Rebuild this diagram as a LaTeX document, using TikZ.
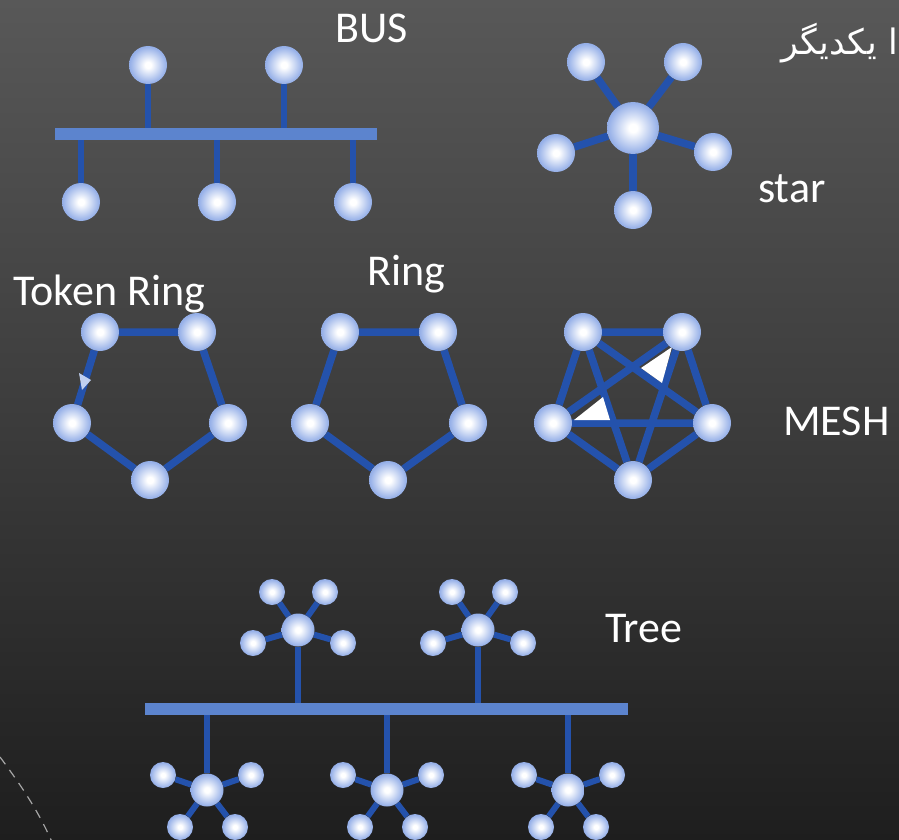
\documentclass[tikz,border=0pt]{standalone}
\usepackage{fontspec}
\setmainfont{Carlito}
\newfontfamily\arabicfont[Script=Arabic]{DejaVu Sans}
\TeXXeTstate=1
\definecolor{edgeblue}{RGB}{36,82,172}
\definecolor{barblue}{RGB}{92,132,206}
\definecolor{ballmid}{RGB}{150,176,232}
\definecolor{ballout}{RGB}{100,130,208}
\definecolor{bgtop}{RGB}{88,88,88}
\definecolor{bgmid}{RGB}{60,60,60}
\definecolor{bgbot}{RGB}{30,30,30}
\pgfdeclareradialshading{ballshade}{\pgfpoint{0bp}{0bp}}{color(0bp)=(white); color(4bp)=(white); color(24bp)=(ballmid); color(46bp)=(ballout); color(50bp)=(ballout); color(100bp)=(ballout)}
\pgfdeclarelayer{back}
\pgfdeclarelayer{edges}
\pgfsetlayers{back,edges,main}
\tikzset{
  ball/.style={circle, inner sep=0pt, minimum size=#1, shading=ballshade},
  link/.style={draw=edgeblue, line width=7.5pt},
  spoke/.style={draw=edgeblue, line width=6pt},
  stem/.style={draw=edgeblue, line width=5.5pt},
  bar/.style={rectangle, fill=barblue, draw=none, inner sep=0pt, minimum height=12pt},
  lbl/.style={text=white, font=\fontsize{44}{52}\selectfont, inner sep=0pt, anchor=base west},
  arrowmark/.style={fill=white, draw=none},
}
\begin{document}
\begin{tikzpicture}[x=1pt,y=-1pt]
\useasboundingbox (0,0) rectangle (899,840);
\begin{pgfonlayer}{back}
  \shade[top color=bgtop, bottom color=bgbot, middle color=bgmid] (0,0) rectangle (899,840);
  \draw[gray!70, dashed, line width=1.2pt, dash pattern=on 9pt off 7pt] (0,757) .. controls (20,784) and (38,810) .. (52,842);
\end{pgfonlayer}

% ---------- labels ----------
\node[lbl] (tbus) at (335,43) {BUS};
\node[lbl] (tstar) at (758,202) {star};
\node[lbl] (ttoken) at (13,305) {Token Ring};
\node[lbl] (tring) at (367,285) {Ring};
\node[lbl] (tmesh) at (783,435) {MESH};
\node[lbl] (ttree) at (605,642) {Tree};
\node[text=white, inner sep=0pt, anchor=base east, font=\arabicfont\fontsize{35}{42}\selectfont] (tfa) at (898,55) {\beginR ا یکدیگر\endR};

% ---------- BUS ----------
\node[bar, minimum width=322pt] (busbar) at (216,134) {};
\foreach \n/\x/\y in {bt1/148/65, bt2/284/65, bb1/81/202, bb2/217/202, bb3/353/202}
  \node[ball=38pt] (\n) at (\x,\y) {};
\begin{pgfonlayer}{edges}
  \foreach \n in {bt1,bt2} \draw[stem] (\n) -- (\n |- busbar.north);
  \foreach \n in {bb1,bb2,bb3} \draw[stem] (\n) -- (\n |- busbar.south);
\end{pgfonlayer}

% ---------- STAR ----------
\node[ball=52pt] (sc) at (633,128) {};
\foreach \n/\x/\y in {s1/586/62, s2/683/62, s3/556/153, s4/713/152, s5/633/210}
  \node[ball=38pt] (\n) at (\x,\y) {};
\begin{pgfonlayer}{edges}
  \foreach \n in {s1,s2,s3,s4,s5} \draw[link] (sc) -- (\n);
\end{pgfonlayer}

% ---------- TOKEN RING ----------
\foreach \n/\x/\y in {k1/100/332, k2/197/332, k3/228/423, k4/150/480, k5/72/423}
  \node[ball=38pt] (\n) at (\x,\y) {};
\begin{pgfonlayer}{edges}
  \draw[link] (k1) -- (k2) (k2) -- (k3) (k3) -- (k4) (k4) -- (k5) (k5) -- (k1);
  \fill[fill=ballmid!60!white] (79,373) -- (91,380) -- (82,390) -- cycle;
\end{pgfonlayer}

% ---------- RING ----------
\foreach \n/\x/\y in {r1/340/332, r2/438/332, r3/468/423, r4/388/480, r5/310/423}
  \node[ball=38pt] (\n) at (\x,\y) {};
\begin{pgfonlayer}{edges}
  \draw[link] (r1) -- (r2) (r2) -- (r3) (r3) -- (r4) (r4) -- (r5) (r5) -- (r1);
\end{pgfonlayer}

% ---------- MESH ----------
\foreach \n/\x/\y in {m1/583/332, m2/682/332, m3/712/423, m4/633/480, m5/553/423}
  \node[ball=38pt] (\n) at (\x,\y) {};
\begin{pgfonlayer}{edges}
  \draw[link] (m1) -- (m2) (m2) -- (m3) (m3) -- (m4) (m4) -- (m5) (m5) -- (m1)
              (m1) -- (m3) (m1) -- (m4) (m2) -- (m4) (m2) -- (m5) (m3) -- (m5);
  \fill[arrowmark] (641,368) -- (672,347) -- (662,383) -- cycle;
  \fill[arrowmark] (574,420) -- (603,397) -- (610,420) -- cycle;
\end{pgfonlayer}

% ---------- TREE ----------
\node[bar, minimum width=483pt] (treebar) at (386.5,709) {};
\foreach \h/\x/\y in {ha/298/630, hb/478/630} {
  \node[ball=33pt] (\h) at (\x,\y) {};
  \foreach \i/\dx/\dy in {1/-26/-38, 2/27/-38, 3/-45/13, 4/45/13} {
    \node[ball=26pt] (\h\i) at (\x+\dx,\y+\dy) {};
    \begin{pgfonlayer}{edges}\draw[spoke] (\h) -- (\h\i);\end{pgfonlayer}
  }
  \begin{pgfonlayer}{edges}\draw[stem] (\h) -- (\h |- treebar.north);\end{pgfonlayer}
}
\foreach \h/\x/\y in {hc/207/790, hd/387/790, he/568/790} {
  \node[ball=33pt] (\h) at (\x,\y) {};
  \foreach \i/\dx/\dy in {1/-44/-15, 2/44/-15, 3/-27/37, 4/28/37} {
    \node[ball=26pt] (\h\i) at (\x+\dx,\y+\dy) {};
    \begin{pgfonlayer}{edges}\draw[spoke] (\h) -- (\h\i);\end{pgfonlayer}
  }
  \begin{pgfonlayer}{edges}\draw[stem] (\h) -- (\h |- treebar.south);\end{pgfonlayer}
}
\end{tikzpicture}
\end{document}
